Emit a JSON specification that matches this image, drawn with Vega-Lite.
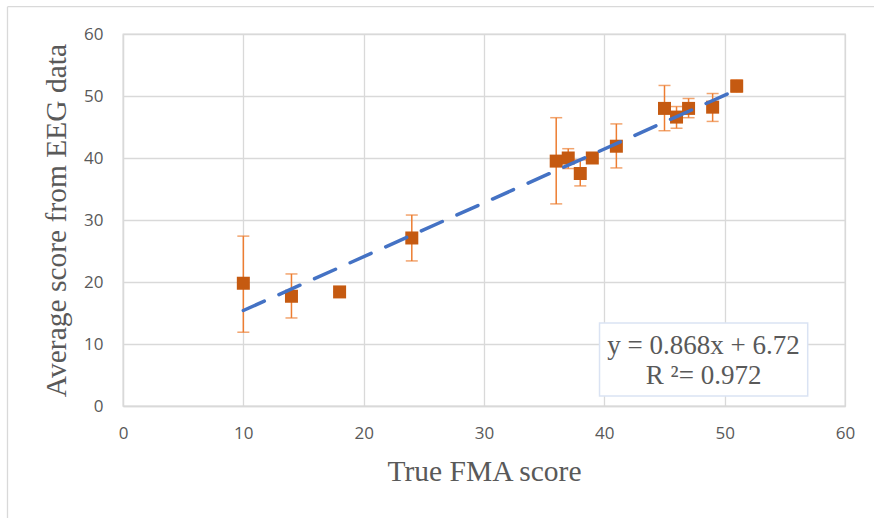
{
  "$schema": "https://vega.github.io/schema/vega-lite/v6.json",
  "width": 722,
  "height": 372,
  "autosize": "none",
  "padding": {"left": 123, "top": 34, "right": 29, "bottom": 112},
  "background": "white",
  "config": {
    "view": {"stroke": "#d9d9d9", "strokeWidth": 1.3},
    "axis": {
      "grid": true, "gridColor": "#d9d9d9", "gridWidth": 1.3, "domainColor": "#d9d9d9", "domainWidth": 1.3,
      "ticks": false, "labelFont": "Open Sans", "labelFontSize": 17, "labelColor": "#595959",
      "labelOverlap": false, "labelFlush": false,
      "titleFont": "Liberation Serif", "titleFontSize": 29.5, "titleFontWeight": "normal", "titleColor": "#595959"
    }
  },
  "datasets": {
    "points": [
      {"fma": 10, "eeg": 19.8, "lo": 11.9, "hi": 27.4},
      {"fma": 14, "eeg": 17.7, "lo": 14.2, "hi": 21.3},
      {"fma": 18, "eeg": 18.4, "lo": 18.4, "hi": 18.4},
      {"fma": 24, "eeg": 27.1, "lo": 23.4, "hi": 30.8},
      {"fma": 36, "eeg": 39.5, "lo": 32.6, "hi": 46.5},
      {"fma": 37, "eeg": 40.0, "lo": 38.3, "hi": 41.5},
      {"fma": 38, "eeg": 37.5, "lo": 35.5, "hi": 39.7},
      {"fma": 39, "eeg": 40.0, "lo": 40.0, "hi": 40.0},
      {"fma": 41, "eeg": 41.9, "lo": 38.4, "hi": 45.5},
      {"fma": 45, "eeg": 48.0, "lo": 44.4, "hi": 51.7},
      {"fma": 46, "eeg": 46.6, "lo": 44.8, "hi": 48.3},
      {"fma": 47, "eeg": 48.0, "lo": 46.5, "hi": 49.6},
      {"fma": 49, "eeg": 48.2, "lo": 45.9, "hi": 50.4},
      {"fma": 51, "eeg": 51.6, "lo": 50.6, "hi": 52.6}
    ],
    "trend": [
      {"fma": 10, "eeg": 15.4},
      {"fma": 51, "eeg": 51.0}
    ],
    "label": [
      {"x1": 39.6, "x2": 56.9, "y1": 1.6, "y2": 13.4}
    ],
    "labeltext": [
      {"x": 48.25, "y": 9.7, "t": "y = 0.868x + 6.72"},
      {"x": 48.25, "y": 4.85, "t": "R ²= 0.972"}
    ],
    "frame": [
      {"xa": -9.6, "xb": -9.6, "ya": 64.4, "yb": -19},
      {"xa": -9.6, "xb": 63, "ya": 64.4, "yb": 64.4}
    ]
  },
  "layer": [
    {
      "data": {"name": "points"},
      "mark": {"type": "rule", "color": "#ED7D31", "strokeWidth": 1.5},
      "encoding": {
        "x": {"field": "fma", "type": "quantitative", "scale": {"domain": [0, 60]},
              "axis": {"title": "True FMA score", "values": [0,10,20,30,40,50,60], "labelPadding": 19, "titlePadding": 16}},
        "y": {"field": "lo", "type": "quantitative", "scale": {"domain": [0, 60]},
              "axis": {"title": "Average score from EEG data", "values": [0,10,20,30,40,50,60], "labelPadding": 20, "titlePadding": 12}},
        "y2": {"field": "hi"}
      }
    },
    {
      "data": {"name": "points"},
      "mark": {"type": "tick", "color": "#ED7D31", "thickness": 1.5, "size": 12, "orient": "horizontal"},
      "encoding": {
        "x": {"field": "fma", "type": "quantitative"},
        "y": {"field": "lo", "type": "quantitative"}
      }
    },
    {
      "data": {"name": "points"},
      "mark": {"type": "tick", "color": "#ED7D31", "thickness": 1.5, "size": 12, "orient": "horizontal"},
      "encoding": {
        "x": {"field": "fma", "type": "quantitative"},
        "y": {"field": "hi", "type": "quantitative"}
      }
    },
    {
      "data": {"name": "points"},
      "mark": {"type": "square", "color": "#C55A11", "opacity": 1, "filled": true, "size": 169},
      "encoding": {
        "x": {"field": "fma", "type": "quantitative"},
        "y": {"field": "eeg", "type": "quantitative"}
      }
    },
    {
      "data": {"name": "trend"},
      "mark": {"type": "line", "color": "#4472C4", "strokeWidth": 3.5, "strokeDash": [23, 16], "strokeCap": "round"},
      "encoding": {
        "x": {"field": "fma", "type": "quantitative"},
        "y": {"field": "eeg", "type": "quantitative"}
      }
    },
    {
      "data": {"name": "label"},
      "mark": {"type": "rect", "fill": "white", "stroke": "#dae3f3", "strokeWidth": 1.5},
      "encoding": {
        "x": {"field": "x1", "type": "quantitative"},
        "x2": {"field": "x2"},
        "y": {"field": "y1", "type": "quantitative"},
        "y2": {"field": "y2"}
      }
    },
    {
      "data": {"name": "labeltext"},
      "mark": {"type": "text", "font": "Liberation Serif", "fontSize": 27, "color": "#595959", "align": "center", "baseline": "middle"},
      "encoding": {
        "x": {"field": "x", "type": "quantitative"},
        "y": {"field": "y", "type": "quantitative"},
        "text": {"field": "t"}
      }
    },
    {
      "data": {"name": "frame"},
      "mark": {"type": "rule", "color": "#d9d9d9", "strokeWidth": 1.3, "clip": false},
      "encoding": {
        "x": {"field": "xa", "type": "quantitative"},
        "x2": {"field": "xb"},
        "y": {"field": "ya", "type": "quantitative"},
        "y2": {"field": "yb"}
      }
    }
  ]
}
